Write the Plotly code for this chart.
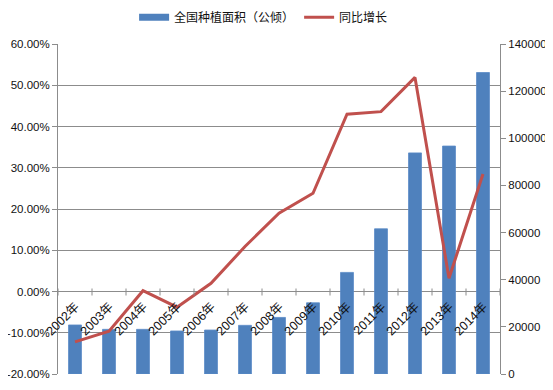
import plotly.graph_objects as go

years = ["2002年", "2003年", "2004年", "2005年", "2006年", "2007年", "2008年",
         "2009年", "2010年", "2011年", "2012年", "2013年", "2014年"]
area = [20800, 18950, 18950, 18250, 18650, 20650, 24000,
        30200, 43100, 61600, 93800, 96700, 127900]
growth = [-0.122, -0.096, 0.002, -0.038, 0.020, 0.109, 0.190,
          0.238, 0.430, 0.436, 0.519, 0.032, 0.285]
pct_ticks = [-0.2, -0.1, 0.0, 0.1, 0.2, 0.3, 0.4, 0.5, 0.6]
pct_labels = ["-20.00%", "-10.00%", "0.00%", "10.00%", "20.00%",
              "30.00%", "40.00%", "50.00%", "60.00%"]
area_name = "全国种植面积（公倾）"
growth_name = "同比增长"

FONT = "Liberation Sans, Noto Sans CJK SC, sans-serif"
BLUE = "#4F81BD"
RED = "#C0504D"
GRID = "#8C8C8C"

fig = go.Figure()
fig.add_trace(go.Bar(
    x=years, y=area, name=area_name, showlegend=False,
    marker=dict(color=BLUE, line=dict(color="#5A8AC6", width=0.8)),
    yaxis="y",
))
# legend-only entry drawn as a wide flat swatch like the original
fig.add_trace(go.Scatter(
    x=[None], y=[None], name=area_name, mode="lines",
    line=dict(color=BLUE, width=7), yaxis="y",
))
fig.add_trace(go.Scatter(
    x=years, y=growth, name=growth_name, mode="lines",
    line=dict(color=RED, width=3),
    yaxis="y2",
))

# year labels sitting along the 0% line, rotated
for yr in years:
    fig.add_annotation(
        x=yr, y=0, xref="x", yref="y2", text=yr, showarrow=False,
        textangle=-45, xanchor="right", yanchor="top",
        xshift=10, yshift=-6,
        font=dict(family=FONT, size=12.5, color="#111111"),
    )

# tick marks on the horizontal (0%) axis between categories
for i in range(len(years) + 1):
    fig.add_shape(
        type="line", xref="x", yref="y2", x0=i - 0.5, x1=i - 0.5,
        ysizemode="pixel", yanchor=0, y0=-4, y1=3,
        line=dict(color=GRID, width=1),
    )

# the page adds an 8px body margin, so the figure is sized to fit the window
fig.update_layout(
    width=545, height=382,
    margin=dict(l=50, r=53, t=36, b=16, autoexpand=False),
    paper_bgcolor="white", plot_bgcolor="white",
    font=dict(family=FONT, size=11, color="#111111"),
    bargap=0.62,
    showlegend=True,
    legend=dict(
        orientation="h", xref="container", yref="container",
        x=0.469, xanchor="center", y=0.976, yanchor="middle",
        font=dict(family=FONT, size=12, color="#111111"),
        itemwidth=30, tracegroupgap=0, bgcolor="rgba(0,0,0,0)",
    ),
    xaxis=dict(
        type="category", showticklabels=False, showgrid=False,
        showline=False, ticks="", range=[-0.5, len(years) - 0.5],
    ),
    yaxis=dict(
        side="right", range=[0, 140000], dtick=20000, showgrid=False,
        showline=True, linecolor=GRID, linewidth=1,
        ticks="outside", ticklen=5, tickcolor=GRID,
        tickfont=dict(family=FONT, size=11.5, color="#111111"),
        zeroline=False, tickformat="d",
    ),
    yaxis2=dict(
        overlaying="y", side="left", range=[-0.2, 0.6],
        tickmode="array", tickvals=pct_ticks, ticktext=pct_labels,
        showgrid=True, gridcolor=GRID, gridwidth=1,
        showline=True, linecolor=GRID, linewidth=1,
        ticks="outside", ticklen=5, tickcolor=GRID,
        tickfont=dict(family=FONT, size=11.5, color="#111111"),
        zeroline=True, zerolinecolor=GRID, zerolinewidth=1,
    ),
)

fig.write_html("out.html")
